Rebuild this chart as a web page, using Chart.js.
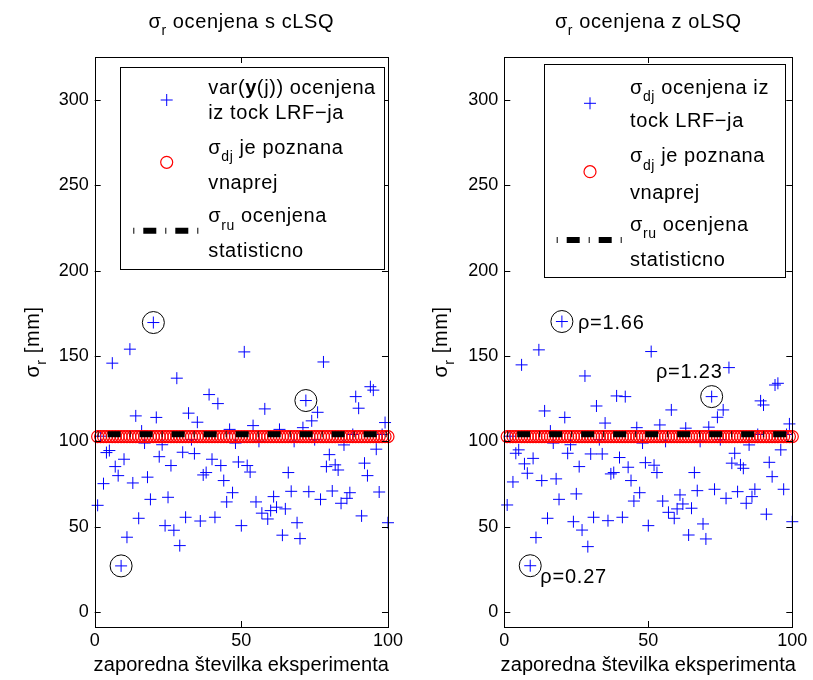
<!DOCTYPE html>
<html><head><meta charset="utf-8">
<script src="https://cdn.jsdelivr.net/npm/chart.js@4/dist/chart.umd.min.js"></script>
<style>
html,body{margin:0;padding:0;background:#fff;}
#wrap{position:relative;width:813px;height:680px;overflow:hidden;}
canvas{position:absolute;top:0;}
</style>
</head><body>
<div id="wrap">
<canvas id="c1" width="406" height="680" style="left:0;width:406px;height:680px"></canvas>
<canvas id="c2" width="407" height="680" style="left:406px;width:407px;height:680px"></canvas>
</div>
<script>
// ---------- DATA ----------
const experiments = Array.from({length:100}, (_, i) => i + 1); // experiment number 1..100
const cLSQ = [62.5,103,75.2,93.4,94.6,145.8,85.2,79.9,27,89.5,
  43.8,154,75.6,114.9,54.9,106,99,79,66,169.6,
  114,91,98,50.6,67.2,85.8,47.9,137,38.9,93.6,
  55.5,116.5,101,92.8,111.2,53.3,80.3,81.7,127.4,89.5,
  55.5,122.1,85.8,77,64.5,107,69.9,99,87.9,50.6,
  152.4,85.8,82,109.2,64.5,100,57.9,119,54.5,59.4,
  67.6,61.4,107,45,60.4,81.7,70.7,100,52.3,43,
  108,123.9,70.5,112,101,117,66,146.5,85.2,92.2,
  70.9,86.2,83.2,63.7,97.9,66.6,69.9,104,126.2,119.4,
  56.3,87.2,79.9,132,130,95.4,70.3,104,111,52.3];
const oLSQ = [62.7,103,76.2,93,95,144.8,86.8,81.3,27.1,90,
  43.6,153.6,77,117.8,54.9,106,99,78,66,170.2,
  114,93,98,52.9,69.2,85.2,48,138.3,38.3,92.6,
  55.5,120.7,101,92.6,110.7,53.5,80.9,81.7,126.6,90.5,
  55.5,126.2,84.8,77,65,108,69.9,99,87.5,50.6,
  152.6,86,81.7,109.6,65,100,58.4,118.4,54.9,60.4,
  68.6,63.3,107.7,45.1,60.8,81.7,71.1,100,51.6,42.8,
  108.3,126.2,71.9,114.1,101,118.4,66.6,143.2,87.2,93,
  70.5,86.2,84.2,63.7,97.9,67.6,71.9,104,123.7,121.3,
  57.3,87.7,79.3,133,134,95,71.9,104,110.2,52.9];
const knownSigma = 102.8;   // sigma_dj known in advance
const statSigma = 104.2;    // sigma_ru estimated statistically
const circledExp = [9, 20, 72];
const rhoLabels = ['ρ=0.27', 'ρ=1.66', 'ρ=1.23'];
const xTicks = [0, 50, 100];
const yTicks = [0, 50, 100, 150, 200, 250, 300];

// ---------- DRAWING HELPERS ----------
const FONT = '"Liberation Sans", Arial, Helvetica, sans-serif';
function fontOf(p, size){ return (p.b?'bold ':'') + (p.s?Math.round(size*0.72):size) + 'px ' + FONT; }
function drawRich(ctx, x, y, parts, size, align, ls){
  ctx.letterSpacing = (ls || 0) + 'px';
  let total = 0;
  parts.forEach(p => { ctx.font = fontOf(p, size); total += ctx.measureText(p.t).width; });
  let cx = align === 'center' ? x - total/2 : (align === 'right' ? x - total : x);
  ctx.textBaseline = 'middle'; ctx.textAlign = 'left'; ctx.fillStyle = '#000';
  parts.forEach(p => {
    ctx.font = fontOf(p, size);
    ctx.fillText(p.t, cx, y + (p.s ? size*0.45 : 0));
    cx += ctx.measureText(p.t).width;
  });
  ctx.letterSpacing = '0px';
}
function drawPlus(ctx, x, y, r){
  ctx.beginPath(); ctx.moveTo(x-r, y); ctx.lineTo(x+r, y); ctx.moveTo(x, y-r); ctx.lineTo(x, y+r);
  ctx.strokeStyle = '#0000ff'; ctx.lineWidth = 1; ctx.stroke();
}

function makePlugin(cfg){
  return {
    id: 'deco',
    afterDraw(chart){
      const ctx = chart.ctx, a = chart.chartArea, xs = chart.scales.x, ys = chart.scales.y;
      ctx.save();
      // box
      ctx.strokeStyle = '#000'; ctx.lineWidth = 1;
      ctx.strokeRect(Math.round(a.left)+0.5, Math.round(a.top)+0.5, Math.round(a.right-a.left), Math.round(a.bottom-a.top));
      // inward ticks
      ctx.beginPath();
      yTicks.forEach(v => { const py = Math.round(ys.getPixelForValue(v))+0.5;
        ctx.moveTo(a.left, py); ctx.lineTo(a.left+6, py); ctx.moveTo(a.right, py); ctx.lineTo(a.right-6, py); });
      xTicks.forEach(v => { const px = Math.round(xs.getPixelForValue(v))+0.5;
        ctx.moveTo(px, a.bottom); ctx.lineTo(px, a.bottom-6); ctx.moveTo(px, a.top); ctx.lineTo(px, a.top+6); });
      ctx.stroke();
      // title
      drawRich(ctx, (a.left+a.right)/2, 22, cfg.title, 20, 'center', 0.6);
      // x title
      drawRich(ctx, (a.left+a.right)/2, 665, [{t:'zaporedna številka eksperimenta'}], 20, 'center', 0.1);
      // y title
      ctx.save(); ctx.translate(cfg.yTitleX, (a.top+a.bottom)/2); ctx.rotate(-Math.PI/2);
      drawRich(ctx, 0, 0, [{t:'σ'},{t:'r',s:1},{t:' [mm]'}], 20, 'center', 0.6);
      ctx.restore();
      // legend
      const L = cfg.legend;
      ctx.fillStyle = '#fff'; ctx.fillRect(L.box[0], L.box[1], L.box[2]-L.box[0], L.box[3]-L.box[1]);
      ctx.strokeStyle = '#000'; ctx.lineWidth = 1;
      ctx.strokeRect(L.box[0]+0.5, L.box[1]+0.5, L.box[2]-L.box[0], L.box[3]-L.box[1]);
      drawPlus(ctx, L.sym[0], L.sym[1], 6);
      ctx.beginPath(); ctx.arc(L.sym[0], L.sym[2], 6, 0, Math.PI*2); ctx.strokeStyle = '#ff0000'; ctx.lineWidth = 1.2; ctx.stroke();
      ctx.beginPath(); ctx.setLineDash([1,9,13,9]); ctx.lineCap = 'butt';
      ctx.moveTo(L.line[0], L.sym[3]); ctx.lineTo(L.line[1], L.sym[3]); ctx.strokeStyle = '#000'; ctx.lineWidth = 6; ctx.stroke();
      ctx.setLineDash([]);
      L.rows.forEach((r, i) => drawRich(ctx, L.textX, L.rowY[i], r, 20, 'left', 0.6));
      // rho annotations
      if (cfg.rho) {
        const vals = cfg.values;
        circledExp.forEach((e, i) => {
          const px = xs.getPixelForValue(e), py = ys.getPixelForValue(vals[e-1]);
          const o = cfg.rho[i];
          drawRich(ctx, px + o[0], py + o[1], [{t:rhoLabels[i]}], 20, o[2], 0.8);
        });
      }
      ctx.restore();
    }
  };
}

function makeChart(id, values, yW, padR, cfg){
  cfg.values = values;
  return new Chart(document.getElementById(id), {
    type: 'scatter',
    data: { datasets: [
      { type:'line', label:'stat', data: experiments.map(x => ({x, y: statSigma})), showLine:true,
        borderColor:'#000', borderWidth:6, borderDash:[1,9,13,9], borderCapStyle:'butt', pointRadius:0, fill:false, tension:0, clip:false },
      { label:'known', data: experiments.map(x => ({x, y: knownSigma})), pointStyle:'circle', pointRadius:6,
        borderColor:'#ff0000', backgroundColor:'rgba(0,0,0,0)', borderWidth:1.2, clip:false },
      { label:'est', data: experiments.map((x, i) => ({x, y: values[i]})), pointStyle:'cross', pointRadius:6,
        borderColor:'#0000ff', backgroundColor:'#0000ff', borderWidth:1, clip:false },
      { label:'circ', data: circledExp.map(x => ({x, y: values[x-1]})), pointStyle:'circle', pointRadius:11,
        borderColor:'#000', backgroundColor:'rgba(0,0,0,0)', borderWidth:1, clip:false }
    ]},
    options: {
      responsive:false, animation:false, events:[],
      layout:{ padding:{ left:0, top:57, right:padR, bottom:0 } },
      plugins:{ legend:{display:false}, tooltip:{enabled:false}, title:{display:false} },
      scales:{
        x:{ type:'linear', min:0, max:100, afterFit:s => { s.height = 53; },
          ticks:{ stepSize:50, includeBounds:false, color:'#000', padding:3, maxRotation:0, font:{size:18, family:FONT} },
          grid:{ display:false, drawTicks:false }, border:{ display:false } },
        y:{ type:'linear', min:-8.8, max:325.2, afterFit:s => { s.width = yW; },
          ticks:{ stepSize:50, includeBounds:false, color:'#000', padding:6, font:{size:18, family:FONT} },
          grid:{ display:false, drawTicks:false }, border:{ display:false } }
      }
    },
    plugins:[ makePlugin(cfg) ]
  });
}

makeChart('c1', cLSQ, 94.7, 17.5, {
  title:[{t:'σ'},{t:'r',s:1},{t:' ocenjena s cLSQ'}],
  yTitleX: 33,
  legend:{ box:[120,67,384,269], sym:[166.7,100,162.3,230.7], line:[133.3,198.3], textX:208.3,
    rowY:[88.3,113.3,148.3,183.3,216.7,251.7],
    rows:[ [{t:'var('},{t:'y',b:1},{t:'(j)) ocenjena'}], [{t:'iz tock LRF−ja'}],
           [{t:'σ'},{t:'dj',s:1},{t:' je poznana'}], [{t:'vnaprej'}],
           [{t:'σ'},{t:'ru',s:1},{t:' ocenjena'}], [{t:'statisticno'}] ] }
});
makeChart('c2', oLSQ, 98.3, 20.7, {
  title:[{t:'σ'},{t:'r',s:1},{t:' ocenjena z oLSQ'}],
  yTitleX: 35,
  legend:{ box:[138,64,379,277], sym:[184,103.3,171.7,240], line:[150.7,215.7], textX:224,
    rowY:[88.3,121.7,156.7,193.3,225,260],
    rows:[ [{t:'σ'},{t:'dj',s:1},{t:' ocenjena iz'}], [{t:'tock LRF−ja'}],
           [{t:'σ'},{t:'dj',s:1},{t:' je poznana'}], [{t:'vnaprej'}],
           [{t:'σ'},{t:'ru',s:1},{t:' ocenjena'}], [{t:'statisticno'}] ] },
  rho: [ [10, 12, 'left'], [16, 1.5, 'left'], [11, -24, 'right'] ]
});
</script>
</body></html>
